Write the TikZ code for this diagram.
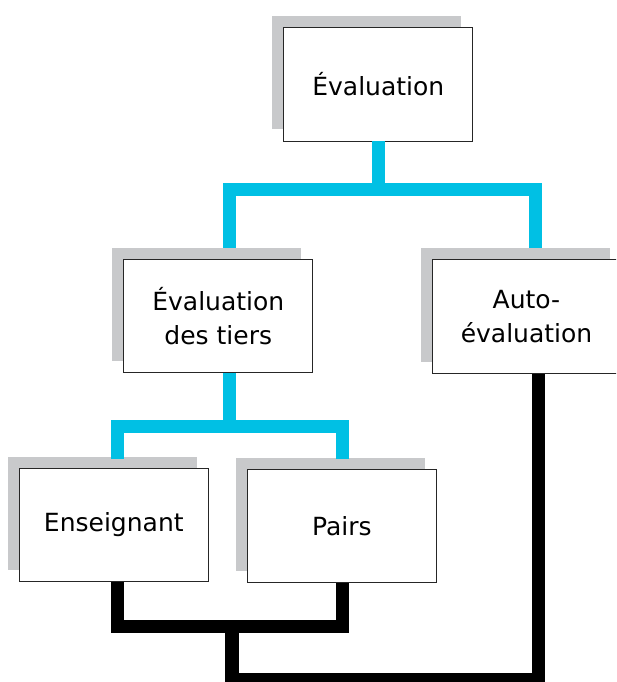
\documentclass[tikz,border=0pt]{standalone}
\usepackage{fontspec}
\setmainfont{DejaVu Sans}
\usetikzlibrary{shadows,calc}
\definecolor{linkblue}{RGB}{0,192,228}
\definecolor{shadegray}{RGB}{200,201,203}
\tikzset{
  box/.style={draw=black!85, line width=0.9pt, fill=white, minimum width=189pt, minimum height=113.5pt,
    align=center, inner sep=0pt, font=\fontsize{25}{33.6}\selectfont,
    copy shadow={shadow xshift=-11.5pt, shadow yshift=11.5pt, fill=shadegray, draw=none}},
  blueline/.style={draw=linkblue, line width=13pt, line join=miter, line cap=butt},
  blackline/.style={draw=black, line width=13.2pt, line join=miter, line cap=butt}
}
\begin{document}
\begin{tikzpicture}[x=1pt,y=-1pt]
\useasboundingbox (0,0) rectangle (616,682);
\clip (0,0) rectangle (616,682);
% nodes
\node[box] (top) at (378.3,84.2) {Évaluation};
\node[box] (mid) at (218.3,315.8) {Évaluation\\des tiers};
\node[box] (auto) at (526.5,316.3) {Auto-\\évaluation};
\node[box] (ens) at (113.8,525) {Enseignant};
\node[box] (pairs) at (341.8,525.8) {Pairs};
% junctions
\coordinate (b1) at (378.3,189.6);
\coordinate (b1l) at (229.2,189.6);
\coordinate (b1r) at (535.8,189.6);
\coordinate (b2) at (229,426.3);
\coordinate (b2l) at (117.3,426.3);
\coordinate (b2r) at (342.7,426.3);
\coordinate (k1) at (232,626.7);
\coordinate (k1l) at (117.3,626.7);
\coordinate (k1r) at (342.7,626.7);
\coordinate (k2) at (232,679.8);
\coordinate (k2r) at (538.5,679.8);
% blue connectors
\draw[blueline] (top.south) -- (b1);
\draw[blueline] (b1l |- 0,247.7) -- (b1l) -- (b1r) -- (b1r |- 0,247.7);
\draw[blueline] ([xshift=10.7pt]mid.south) -- (b2);
\draw[blueline] (b2l |- 0,459) -- (b2l) -- (b2r) -- (b2r |- 0,459);
% black connectors
\draw[blackline] ([xshift=3.5pt]ens.south) -- (k1l) -- (k1r) -- ([xshift=0.9pt]pairs.south);
\draw[blackline] (k1) -- (k2) -- (k2r) -- ([xshift=12pt]auto.south);
\end{tikzpicture}
\end{document}
